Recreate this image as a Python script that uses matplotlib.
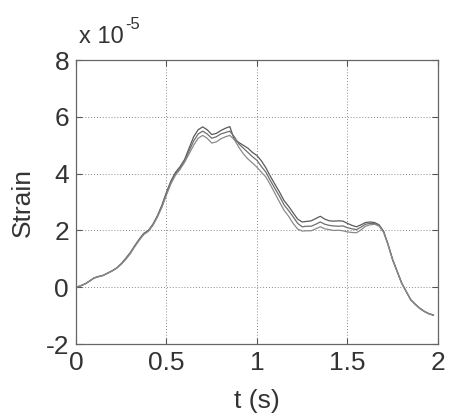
import matplotlib.pyplot as plt

plt.rcParams['font.family'] = ['Liberation Sans', 'DejaVu Sans']
plt.rcParams['axes.unicode_minus'] = False

# tiempo (s)
t = [0, 0.025, 0.05, 0.075, 0.1, 0.125, 0.15, 0.175, 0.2, 0.225,
     0.25, 0.275, 0.3, 0.325, 0.35, 0.375, 0.4, 0.425, 0.45, 0.475,
     0.5, 0.525, 0.55, 0.575, 0.6, 0.625, 0.65, 0.675, 0.7, 0.725,
     0.75, 0.775, 0.8, 0.825, 0.85, 0.875, 0.9, 0.925, 0.95, 0.975,
     1.0, 1.025, 1.05, 1.075, 1.1, 1.125, 1.15, 1.175, 1.2, 1.225,
     1.25, 1.275, 1.3, 1.325, 1.35, 1.375, 1.4, 1.425, 1.45, 1.475,
     1.5, 1.525, 1.55, 1.575, 1.6, 1.625, 1.65, 1.675, 1.7, 1.725,
     1.75, 1.775, 1.8, 1.825, 1.85, 1.875, 1.9, 1.925, 1.95, 1.975]

# deformacion (x 1e-5) de las tres galgas
strainTop = [0, 0.05, 0.12, 0.22, 0.33, 0.38, 0.42, 0.5, 0.58, 0.68,
             0.83, 1.02, 1.22, 1.47, 1.7, 1.9, 2.0, 2.22, 2.52, 2.9,
             3.35, 3.75, 4.05, 4.25, 4.5, 4.9, 5.3, 5.55, 5.65, 5.55,
             5.38, 5.42, 5.52, 5.6, 5.66, 5.2, 5.1, 5.0, 4.9, 4.75,
             4.64, 4.45, 4.2, 3.9, 3.62, 3.35, 3.05, 2.85, 2.62, 2.4,
             2.3, 2.32, 2.34, 2.42, 2.5, 2.4, 2.34, 2.33, 2.34, 2.33,
             2.25, 2.18, 2.13, 2.2, 2.28, 2.3, 2.28, 2.2, 1.97, 1.5,
             0.98, 0.56, 0.15, -0.15, -0.44, -0.6, -0.74, -0.85, -0.93, -0.98]
strainMid = [0, 0.05, 0.12, 0.22, 0.33, 0.38, 0.42, 0.5, 0.58, 0.68,
             0.82, 1.0, 1.2, 1.45, 1.68, 1.88, 1.98, 2.2, 2.5, 2.85,
             3.3, 3.7, 4.0, 4.2, 4.45, 4.8, 5.15, 5.4, 5.5, 5.4,
             5.25, 5.3, 5.4, 5.45, 5.5, 5.3, 5.05, 4.9, 4.75, 4.6,
             4.47, 4.25, 4.05, 3.75, 3.47, 3.2, 2.9, 2.7, 2.48, 2.25,
             2.13, 2.15, 2.15, 2.22, 2.3, 2.22, 2.18, 2.16, 2.15, 2.16,
             2.1, 2.06, 2.03, 2.12, 2.22, 2.25, 2.25, 2.18, 1.95, 1.5,
             0.96, 0.55, 0.14, -0.15, -0.44, -0.6, -0.74, -0.85, -0.93, -0.98]
strainBot = [0, 0.05, 0.11, 0.21, 0.32, 0.37, 0.41, 0.49, 0.57, 0.67,
             0.81, 0.98, 1.18, 1.43, 1.66, 1.86, 1.97, 2.18, 2.47, 2.82,
             3.25, 3.65, 3.95, 4.15, 4.4, 4.7, 5.0, 5.25, 5.35, 5.25,
             5.08, 5.12, 5.23, 5.3, 5.35, 5.2, 4.93, 4.7, 4.52, 4.38,
             4.23, 4.05, 3.88, 3.6, 3.3, 3.0, 2.71, 2.5, 2.25, 2.05,
             1.98, 1.99, 1.99, 2.06, 2.13, 2.06, 2.03, 2.0, 2.01, 1.99,
             1.95, 1.93, 1.92, 2.02, 2.15, 2.2, 2.22, 2.15, 1.93, 1.48,
             0.95, 0.54, 0.13, -0.16, -0.45, -0.61, -0.75, -0.86, -0.94, -0.99]

xticks = [0, 0.5, 1, 1.5, 2]
xtickLabels = ['0', '0.5', '1', '1.5', '2']
yticks = [-2, 0, 2, 4, 6, 8]

fig = plt.figure(figsize=(4.51, 4.18), dpi=100)
ax = fig.add_axes([0.1685, 0.177, 0.8025, 0.679])

plt.plot(t, strainTop, color='#5a5a5a', linewidth=0.9)
plt.plot(t, strainMid, color='#6e6e6e', linewidth=0.9)
plt.plot(t, strainBot, color='#8a8a8a', linewidth=0.9)

ax.set_xlim(0, 2)
ax.set_ylim(-2, 8)
ax.set_xticks(xticks)
ax.set_xticklabels(xtickLabels)
ax.set_yticks(yticks)
ax.grid(True, linestyle=(0, (1, 2)), color='#888888', linewidth=0.7)
ax.tick_params(direction='in', length=4, colors='#555555', labelcolor='#333333',
               labelsize=19, top=True, right=True, pad=5)
for s in ax.spines.values():
    s.set_color('#666666')
    s.set_linewidth(0.9)

#---titulos---#
plt.xlabel('t (s)', fontsize=19, color='#333333', labelpad=10)
plt.ylabel('Strain', fontsize=19, color='#333333', labelpad=8)
# factor de escala del eje y
fig.text(0.175, 0.897, 'x 10', fontsize=17, color='#333333', va='baseline')
fig.text(0.277, 0.931, '-5', fontsize=12, color='#333333', va='baseline')

plt.savefig('out.png', dpi=100)
